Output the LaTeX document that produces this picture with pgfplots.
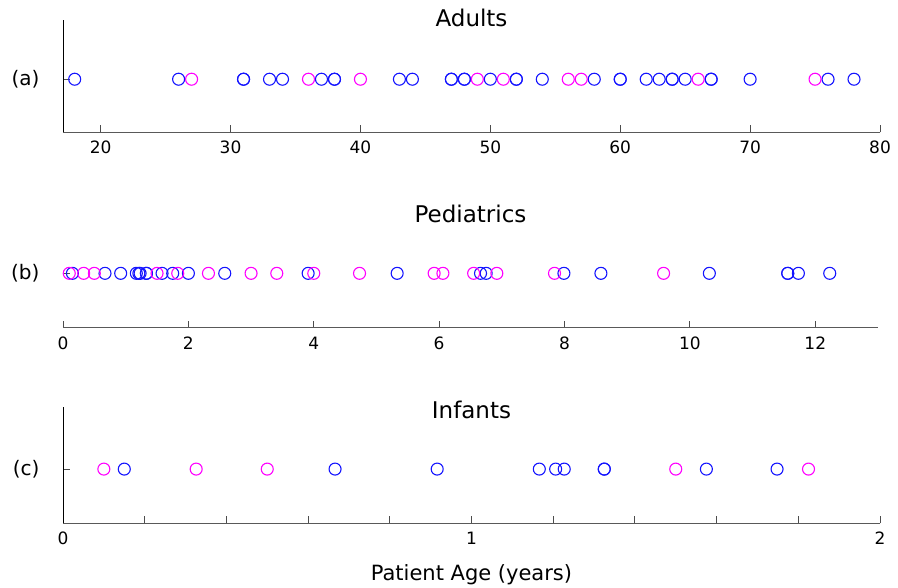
\documentclass[border=0pt]{standalone}
\usepackage{fontspec}
\setmainfont{DejaVu Sans}
\usepackage{pgfplots}
\pgfplotsset{compat=1.18}

\definecolor{ptblue}{RGB}{20,20,255}
\definecolor{ptmag}{RGB}{255,0,255}

\pgfplotsset{
  strip/.style={
    scale only axis,
    axis lines=left,
    axis line style={-, line width=1pt},
    x axis line style={black!65},
    tick align=inside,
    major tick length=7pt,
    tick style={black!70, line width=0.9pt},
    ymin=0, ytick={1},
    /pgf/number format/assume math mode=true,
    ticklabel style={font=\fontsize{17}{20}\selectfont},
    xticklabel style={yshift=-5.5pt},
    yticklabel style={font=\fontsize{20}{24}\selectfont, xshift=-20pt},
    title style={font=\fontsize{23}{27}\selectfont, at={(0.5,1)}, anchor=base},
    clip=true,
  },
  bl/.style={only marks, mark=o, mark size=6pt, color=ptblue, mark options={line width=1.1pt}},
  mg/.style={only marks, mark=o, mark size=6pt, color=ptmag, mark options={line width=1.1pt}},
}

\begin{document}
\begin{tikzpicture}
\path[use as bounding box] (0,0) rectangle (898pt,-588pt);

% Adults
\begin{axis}[strip, at={(63pt,-132.3pt)}, anchor=south west,
  width=817pt, height=112pt,
  xmin=17.1, xmax=80, xtick={20,30,...,80}, ymax=2.11,
  yticklabels={(a)}, title={Adults}, title style={yshift=-12pt}]
\addplot[bl] coordinates {
 (18,1) (26,1) (31,1) (31,1) (33,1) (34,1) (37,1) (38,1) (38,1)
 (43,1) (44,1) (47,1) (47,1) (48,1) (48,1) (50,1) (52,1) (52,1)
 (54,1) (58,1) (60,1) (60,1) (62,1) (63,1) (64,1) (64,1) (65,1)
 (67,1) (67,1) (70,1) (76,1) (78,1)};
\addplot[mg] coordinates {
 (27,1) (36,1) (40,1) (49,1) (51,1) (56,1) (57,1) (66,1) (75,1)};
\end{axis}

% Pediatrics
\begin{axis}[strip, at={(63pt,-327.7pt)}, anchor=south west,
  width=815pt, height=112pt,
  y axis line style={draw=none},
  xmin=0, xmax=13, xtick={0,2,...,12}, ymax=2.06,
  yticklabels={(b)}, title={Pediatrics}, title style={yshift=-13pt}]
\addplot[bl] coordinates {
 (0.15,1) (0.67,1) (0.92,1) (1.17,1) (1.21,1) (1.23,1) (1.33,1) (1.33,1)
 (1.58,1) (1.75,1) (2.0,1) (2.58,1) (3.91,1) (5.33,1) (6.66,1) (6.75,1)
 (7.99,1) (8.58,1) (10.31,1) (11.56,1) (11.56,1) (11.73,1) (12.23,1)};
\addplot[mg] coordinates {
 (0.1,1) (0.33,1) (0.5,1) (1.5,1) (1.83,1) (2.32,1) (3.0,1) (3.41,1)
 (4.0,1) (4.73,1) (5.92,1) (6.06,1) (6.55,1) (6.92,1) (7.84,1) (9.58,1)};
\end{axis}

% Infants
\begin{axis}[strip, at={(63pt,-523.3pt)}, anchor=south west,
  width=817pt, height=116pt,
  xmin=0, xmax=2, xtick={0,0.2,0.4,0.6,0.8,1,1.2,1.4,1.6,1.8,2},
  xticklabels={0,,,,,1,,,,,2}, ymax=2.14,
  yticklabels={(c)}, title={Infants}, title style={yshift=-17pt},
  xlabel={Patient Age (years)},
  xlabel style={font=\fontsize{21}{25}\selectfont, at={(0.5,0)}, anchor=base, yshift=-57pt}]
\addplot[bl] coordinates {
 (0.15,1) (0.666,1) (0.916,1) (1.166,1) (1.206,1) (1.227,1)
 (1.325,1) (1.325,1) (1.575,1) (1.748,1)};
\addplot[mg] coordinates {
 (0.1,1) (0.326,1) (0.5,1) (1.5,1) (1.825,1)};
\end{axis}
\end{tikzpicture}
\end{document}
